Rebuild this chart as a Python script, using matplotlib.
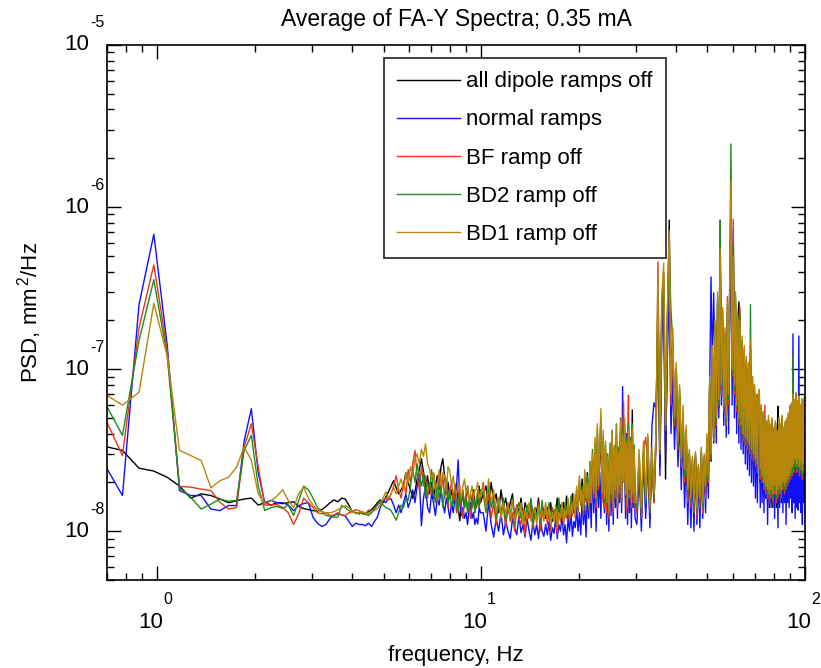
import numpy as np
import matplotlib
matplotlib.use("Agg")
import matplotlib.pyplot as plt

plt.rcParams['font.family'] = ['Liberation Sans', 'DejaVu Sans']
plt.rcParams['mathtext.fontset'] = 'custom'
plt.rcParams['mathtext.rm'] = 'Liberation Sans'
plt.rcParams['mathtext.it'] = 'Liberation Sans'
plt.rcParams['mathtext.default'] = 'regular'

TITLE = "Average of FA-Y Spectra; 0.35 mA"
XLABEL = "frequency, Hz"
YLABEL = r"PSD, mm$^{\,2}$/Hz"
LABELS = ["all dipole ramps off", "normal ramps", "BF ramp off", "BD2 ramp off", "BD1 ramp off"]
COLORS = ["#000000", "#1010FF", "#E8381A", "#1E8C1E", "#B8860B"]
XTICK_EXP = [0, 1, 2]
YTICK_EXP = [-8, -7, -6, -5]

# frequency bins (Hz): bin width 100/1024; segment A every bin from bin 7,
# segment B every 2nd bin from bin 104, segment C every 5th bin from bin 310
DF = 100.0 / 1024.0
K0 = [7, 104, 310]
KSTEP = [1, 2, 5]

# PSD values in units of 1e-8 mm^2/Hz
black_a = [3.35, 3.15, 2.45, 2.35, 2.15, 1.9, 1.6, 1.7, 1.66, 1.58,
           1.5, 1.54, 1.58, 1.6, 1.45, 1.5, 1.45, 1.5, 1.48, 1.5,
           1.52, 1.42, 1.38, 1.36, 1.34, 1.33, 1.36, 1.42, 1.5, 1.56,
           1.52, 1.6, 1.58, 1.45, 1.32, 1.3, 1.28, 1.3, 1.27, 1.32,
           1.36, 1.42, 1.5, 1.56, 1.5, 1.62, 1.75, 1.9, 2.05, 1.85,
           1.7, 1.8, 1.95, 2.3, 2.0, 1.8, 1.6, 1.75, 2.1, 2.4,
           2.8, 2.3, 1.9, 2.2, 1.7, 2.0, 1.6, 1.9, 2.2, 1.8,
           2.5, 2.8, 2.2, 1.7, 2.0, 1.6, 1.8, 1.5, 1.7, 2.0,
           1.4, 1.16, 1.5, 1.7, 1.4, 1.6, 1.9, 1.5, 1.3, 1.6,
           1.8, 1.5, 1.4, 1.6, 1.9, 1.5]
black_b = [1.7, 1.9, 1.4, 2.0, 1.5, 1.7, 1.3, 1.8, 1.4, 1.6,
           1.3, 1.5, 1.7, 1.2, 1.45, 1.3, 1.6, 1.2, 1.5, 1.35,
           1.25, 1.55, 1.2, 1.4, 1.3, 1.6, 1.15, 1.45, 1.3, 1.2,
           1.4, 1.25, 1.5, 1.15, 1.35, 1.3, 1.6, 1.2, 1.45, 1.3,
           1.5, 1.25, 1.65, 1.2, 1.4, 1.35, 1.7, 1.3, 1.5, 1.6,
           1.4, 1.9, 1.5, 2.1, 1.35, 1.8, 1.55, 2.3, 1.4, 2.0,
           1.5, 2.6, 1.7, 3.0, 1.45, 3.6, 1.8, 2.8, 4.0, 1.6,
           3.4, 1.4, 3.0, 1.5, 2.7, 1.3, 3.2, 1.6, 3.5, 1.4,
           2.9, 1.7, 3.8, 1.4, 3.0, 1.8, 4.1, 1.5, 3.6, 2.0,
           4.4, 1.6, 3.3, 1.4, 4.0, 1.7, 3.4, 1.5, 5.6, 1.6,
           3.0, 1.5]
black_c = [1.3, 2.6, 1.2, 3.0, 1.4, 3.3, 1.2, 2.8, 1.5, 3.6,
           24, 2.5, 20, 32, 2.1, 18, 83, 10, 14, 5,
           10, 3.5, 7, 2.6, 5.2, 2.1, 4.0, 1.6, 3.0, 1.5,
           2.6, 1.4, 2.9, 1.3, 2.4, 1.45, 3.1, 1.35, 2.8, 1.7,
           3.5, 1.9, 8, 2.7, 12, 3.5, 18, 4.4, 25, 5.8,
           60, 7, 20, 5.5, 15, 4.5, 22, 6, 32, 110,
           9, 55, 7, 25, 5.5, 19, 26, 18, 4.0, 14,
           3.6, 12, 3.4, 10.5, 3.2, 9.5, 3.0, 13, 2.8, 8,
           2.6, 7.2, 2.4, 6.2, 2.2, 7, 5.5, 2.0, 5.6, 1.9,
           5.0, 1.7, 4.6, 1.6, 4.3, 1.5, 4.8, 1.4, 4.2, 1.5,
           4.6, 1.4, 4.0, 1.6, 4.4, 1.4, 3.8, 5.9, 4.6, 1.6,
           4.2, 1.5, 4.8, 1.7, 4.0, 1.6, 4.4, 1.7, 4.6, 1.8,
           5.0, 1.9, 5.6, 2.0, 5.8, 2.1, 7.5, 2.2, 6.0, 2.4,
           6.8, 2.2, 6.0, 2.4, 6.3, 2.1, 5.6, 2.3, 6.1, 2.0,
           5.8, 2.2, 6.3, 2.5]

blue_a = [2.64, 1.66, 25, 68, 14, 1.78, 1.66, 1.66, 1.37, 1.34,
          1.44, 1.44, 3.6, 5.7, 2.3, 1.5, 1.55, 1.5, 1.5, 1.45,
          1.34, 1.44, 1.48, 1.5, 1.22, 1.12, 1.07, 1.1, 1.2, 1.25,
          1.28, 1.26, 1.24, 1.15, 1.07, 1.12, 1.1, 1.1, 1.08, 1.12,
          1.07, 1.15, 1.22, 1.4, 1.54, 1.5, 1.6, 1.58, 1.45, 1.3,
          1.45, 1.3, 1.5, 1.7, 1.4, 1.55, 1.8, 1.5, 1.9, 2.2,
          1.08, 1.6, 1.9, 1.4, 1.3, 1.7, 1.5, 1.25, 1.6, 1.45,
          1.8, 1.5, 1.3, 1.6, 1.4, 1.2, 1.5, 1.3, 1.6, 1.9,
          2.75, 1.5, 1.25, 1.4, 1.2, 1.3, 1.1, 1.35, 1.5, 1.2,
          1.3, 1.1, 1.2, 1.11, 1.4, 1.3]
blue_b = [1.3, 1.0, 1.5, 1.1, 0.92, 1.2, 1.0, 1.3, 0.95, 1.15,
          1.0, 0.9, 1.2, 1.05, 0.95, 1.25, 0.98, 1.1, 0.92, 1.2,
          1.0, 0.88, 1.15, 0.95, 1.1, 0.9, 1.2, 1.0, 0.93, 1.1,
          0.95, 1.15, 0.88, 1.05, 0.97, 1.2, 0.9, 1.1, 1.0, 1.25,
          0.95, 1.1, 0.85, 1.2, 1.0, 1.3, 0.93, 1.15, 1.05, 1.4,
          1.0, 1.3, 0.95, 1.6, 1.1, 1.45, 0.92, 1.8, 1.2, 2.0,
          1.05, 2.5, 1.3, 2.2, 1.0, 2.8, 1.4, 2.3, 1.2, 3.0,
          3.5, 1.3, 2.6, 1.1, 2.2, 1.0, 2.9, 1.25, 3.2, 1.1,
          2.6, 1.4, 3.4, 1.2, 2.8, 1.5, 3.6, 1.3, 7.8, 2.2,
          3.0, 1.2, 4.0, 1.1, 2.6, 1.3, 3.2, 1.05, 2.8, 1.4,
          2.5, 1.2]
blue_c = [1.1, 2.4, 1.0, 2.8, 1.2, 3.0, 1.05, 4.5, 6.2, 5.7,
          20, 2.2, 16, 25, 3.0, 12, 30, 4.0, 9, 3.2,
          7, 2.5, 5, 1.8, 4.2, 1.4, 3.0, 1.1, 2.6, 1.05,
          2.4, 1.0, 2.8, 1.1, 2.2, 1.05, 2.9, 1.2, 2.5, 1.3,
          3.2, 1.6, 8, 37, 10, 29.5, 12, 3.5, 20, 5,
          83, 6, 18, 4.5, 12, 3.8, 15, 4, 25, 60,
          6, 73, 5, 20, 4, 15, 3.5, 14, 3.2, 12,
          3.0, 10, 2.6, 9, 2.4, 8, 2.2, 10, 2.0, 7,
          1.9, 6, 1.6, 5, 1.5, 4.5, 5.0, 1.4, 4.2, 1.5,
          4.0, 1.3, 3.8, 1.6, 3.5, 1.1, 4.0, 1.5, 3.6, 1.4,
          3.8, 1.6, 3.4, 1.2, 4.0, 1.5, 3.6, 1.05, 3.9, 1.4,
          3.5, 1.6, 4.2, 1.3, 3.6, 1.5, 4.0, 1.1, 3.8, 1.5,
          4.2, 1.4, 5.0, 1.6, 6.0, 1.3, 16.5, 1.5, 5.5, 1.2,
          6.0, 1.4, 5.5, 1.35, 16, 1.5, 5.0, 1.3, 5.8, 1.1,
          5.2, 1.5, 6.0, 1.3]

red_a = [5.2, 2.93, 18, 44, 13, 1.89, 1.87, 1.82, 1.78, 1.51,
         1.37, 1.4, 3.3, 4.6, 2.5, 1.45, 1.45, 1.46, 1.4, 1.3,
         1.1, 1.28, 1.6, 1.5, 1.4, 1.3, 1.28, 1.3, 1.25, 1.26,
         1.3, 1.26, 1.25, 1.3, 1.32, 1.36, 1.34, 1.3, 1.28, 1.35,
         1.3, 1.38, 1.45, 1.5, 1.55, 1.6, 1.55, 1.7, 1.9, 2.2,
         1.8, 1.6, 2.0, 1.7, 2.4, 2.0, 2.6, 3.15, 2.2, 1.8,
         2.5, 1.9, 2.2, 1.6, 2.0, 1.7, 2.3, 1.9, 1.5, 2.1,
         1.7, 2.2, 1.6, 1.9, 1.4, 1.8, 2.0, 1.5, 1.7, 1.3,
         1.6, 1.9, 1.4, 1.2, 1.5, 1.7, 1.35, 1.6, 1.2, 1.45,
         1.7, 1.3, 1.5, 1.8, 1.4, 1.6]
red_b = [2.0, 1.4, 1.7, 1.2, 1.5, 1.1, 1.6, 1.25, 1.4, 1.05,
         1.5, 1.15, 1.3, 1.0, 1.45, 1.2, 1.1, 1.35, 0.95, 1.3,
         1.2, 1.4, 1.05, 1.3, 1.15, 1.5, 1.0, 1.3, 1.2, 1.45,
         1.1, 1.3, 1.0, 1.4, 1.2, 1.25, 0.95, 1.35, 1.15, 1.5,
         1.1, 1.3, 1.2, 1.55, 1.15, 1.4, 1.25, 1.6, 1.2, 1.75,
         1.3, 2.0, 1.45, 1.7, 1.25, 2.2, 1.5, 1.9, 1.35, 2.4,
         1.5, 2.7, 1.6, 3.3, 1.4, 4.0, 1.8, 3.0, 4.6, 1.5,
         3.7, 1.4, 3.2, 1.3, 2.6, 1.2, 3.0, 1.5, 3.6, 1.3,
         3.0, 1.6, 4.0, 1.35, 2.7, 1.7, 4.2, 1.5, 3.5, 6.3,
         2.0, 3.4, 1.3, 3.8, 6.9, 1.6, 3.2, 1.4, 3.8, 1.5,
         2.9, 1.4]
red_c = [1.3, 2.8, 1.2, 3.2, 3.8, 2.6, 1.3, 3.0, 1.5, 3.4,
         46, 3.0, 25, 40, 4.2, 20, 60, 6, 14, 4.5,
         9, 3.2, 6.5, 2.5, 5, 2.0, 3.8, 1.5, 3.0, 1.4,
         2.7, 1.3, 3.0, 1.2, 2.5, 1.4, 3.0, 1.3, 2.8, 1.6,
         3.6, 2.0, 8, 2.8, 12, 3.6, 18, 4.5, 26, 6,
         79, 7, 22, 5.5, 16, 4.5, 28, 6, 35, 120,
         9, 84, 7, 26, 5.5, 20, 4.5, 24, 4.0, 15,
         3.6, 13, 3.4, 11, 3.2, 10, 3.0, 14, 2.8, 8.5,
         2.7, 7.5, 2.5, 6.5, 2.3, 6, 7, 2.1, 6.0, 2.0,
         5.2, 1.8, 6.0, 1.7, 4.5, 1.6, 4.9, 1.5, 4.4, 1.6,
         4.8, 1.5, 4.2, 1.7, 4.6, 1.5, 4.0, 1.6, 4.8, 1.7,
         4.4, 1.6, 5.0, 1.8, 4.2, 1.7, 4.6, 1.8, 4.8, 1.9,
         5.2, 2.0, 5.8, 2.1, 6.0, 2.2, 8.0, 2.3, 6.2, 2.5,
         7.0, 2.3, 6.2, 2.5, 6.5, 2.2, 5.8, 2.4, 6.3, 2.1,
         6.0, 2.3, 6.5, 2.6]

green_a = [6.4, 3.9, 15, 35.6, 12, 1.85, 1.62, 1.37, 1.47, 1.58,
           1.53, 1.55, 3.15, 3.9, 1.9, 1.34, 1.4, 1.42, 1.38, 1.45,
           1.25, 1.54, 1.9, 1.8, 1.6, 1.4, 1.32, 1.25, 1.24, 1.22,
           1.22, 1.44, 1.4, 1.34, 1.32, 1.3, 1.3, 1.28, 1.27, 1.25,
           1.3, 1.38, 1.45, 1.54, 1.45, 1.4, 1.38, 1.34, 1.25, 1.17,
           1.3, 1.45, 1.4, 1.6, 1.55, 1.9, 2.4, 2.0, 2.6, 2.2,
           1.9, 2.3, 1.6, 2.0, 1.8, 2.4, 1.7, 1.5, 2.0, 1.6,
           1.9, 1.4, 1.7, 2.1, 1.5, 1.8, 1.4, 1.6, 1.9, 1.5,
           1.3, 1.7, 1.5, 1.8, 1.4, 1.6, 1.3, 1.5, 1.7, 1.4,
           1.6, 1.3, 1.5, 1.7, 1.4, 1.8]
green_b = [1.7, 1.3, 1.9, 1.4, 1.6, 1.2, 1.45, 1.3, 1.6, 1.15,
           1.4, 1.25, 1.6, 1.1, 1.35, 1.5, 1.2, 1.3, 1.15, 1.45,
           1.3, 1.6, 1.1, 1.35, 1.25, 1.4, 1.15, 1.55, 1.2, 1.3,
           1.25, 1.5, 1.15, 1.35, 1.2, 1.4, 1.1, 1.6, 1.25, 1.45,
           1.2, 1.5, 1.3, 1.4, 1.25, 1.65, 1.3, 1.5, 1.35, 1.8,
           1.35, 2.1, 1.5, 1.9, 1.3, 2.3, 1.6, 2.2, 1.4, 2.7,
           1.6, 3.2, 1.8, 3.5, 1.5, 4.3, 2.0, 3.2, 5.0, 1.8,
           3.9, 1.5, 3.4, 1.6, 3.0, 1.4, 3.5, 1.6, 4.2, 1.5,
           3.3, 1.8, 4.6, 1.5, 3.3, 2.0, 5.0, 1.7, 4.2, 2.2,
           4.8, 1.8, 3.7, 1.5, 4.5, 1.9, 3.8, 1.6, 4.6, 1.8,
           3.4, 1.6]
green_c = [1.4, 3.0, 1.3, 3.4, 1.5, 3.8, 1.35, 3.1, 1.6, 4.0,
           30, 3.1, 26, 38, 4.4, 22, 50, 23, 15, 4.8,
           10, 3.4, 7.5, 2.6, 5.5, 2.2, 4.2, 1.7, 3.1, 1.5,
           2.8, 1.4, 3.0, 1.3, 2.5, 1.5, 3.2, 1.4, 2.9, 1.8,
           3.8, 2.1, 8.5, 2.9, 13, 3.8, 19, 4.8, 28, 6.2,
           83, 7.5, 23, 5.8, 17, 4.8, 25, 6.5, 38, 245,
           9.5, 60, 7.5, 28, 5.8, 21, 4.8, 22, 4.2, 15,
           3.8, 13.5, 3.6, 11.5, 3.4, 10.5, 3.2, 25, 3.0, 9,
           2.9, 8, 2.7, 6.8, 2.5, 6.2, 7.2, 2.3, 5.8, 2.1,
           5.4, 1.9, 4.9, 1.8, 4.6, 1.7, 5.0, 1.6, 4.5, 1.7,
           4.9, 1.6, 4.3, 1.8, 4.7, 1.6, 4.1, 1.7, 4.9, 1.8,
           4.5, 1.7, 5.1, 1.9, 4.3, 1.8, 4.7, 1.9, 4.9, 2.0,
           5.3, 2.1, 5.9, 2.2, 6.1, 2.3, 12, 2.4, 6.3, 2.6,
           7.1, 2.4, 6.3, 2.6, 6.6, 2.3, 5.9, 2.5, 6.4, 2.2,
           6.1, 2.4, 6.6, 2.7]

gold_a = [7.1, 6.0, 7.2, 25.5, 12, 3.15, 2.93, 2.73, 1.85, 2.05,
          2.15, 2.48, 3.3, 2.75, 1.7, 1.47, 1.54, 1.65, 1.8, 1.55,
          1.4, 1.7, 1.87, 1.6, 1.45, 1.35, 1.32, 1.3, 1.3, 1.32,
          1.36, 1.4, 1.44, 1.4, 1.33, 1.28, 1.3, 1.32, 1.3, 1.28,
          1.32, 1.34, 1.38, 1.45, 1.6, 1.75, 1.6, 1.7, 1.85, 1.7,
          1.9, 2.1, 1.8, 2.3, 2.0, 2.5, 2.2, 2.8, 3.0, 2.6,
          3.2, 2.9, 3.46, 2.6, 2.4, 2.1, 2.3, 1.8, 1.9, 2.4,
          2.0, 2.3, 2.2, 1.8, 2.5, 2.35, 1.9, 2.2, 1.8, 1.7,
          2.0, 1.8, 1.6, 1.9, 2.1, 1.7, 1.9, 1.5, 1.7, 1.9,
          1.6, 1.8, 1.82, 2.0, 1.6, 1.7]
gold_b = [1.9, 1.4, 2.1, 1.5, 1.8, 1.3, 1.6, 1.2, 1.5, 1.3,
          1.45, 1.2, 1.55, 1.15, 1.4, 1.25, 1.5, 1.1, 1.35, 1.2,
          1.5, 1.15, 1.3, 1.4, 1.1, 1.45, 1.2, 1.35, 1.15, 1.5,
          1.2, 1.4, 1.1, 1.3, 1.15, 1.45, 1.05, 1.3, 1.2, 1.5,
          1.15, 1.35, 1.25, 1.6, 1.2, 1.45, 1.3, 1.7, 1.25, 1.9,
          1.4, 2.2, 1.5, 1.8, 1.35, 2.4, 1.6, 2.0, 1.45, 2.6,
          1.5, 3.0, 1.7, 3.8, 1.6, 4.6, 1.9, 3.4, 5.7, 1.7,
          4.2, 1.6, 3.6, 1.5, 2.9, 1.3, 3.3, 1.7, 4.0, 1.4,
          3.4, 1.8, 4.5, 1.5, 3.1, 1.9, 4.8, 1.6, 3.9, 2.0,
          5.0, 1.7, 3.5, 1.4, 4.2, 1.8, 3.6, 1.5, 4.3, 1.7,
          3.2, 1.5]
gold_c = [1.5, 3.2, 1.4, 3.6, 1.6, 4.0, 1.45, 3.3, 1.7, 4.2,
          38, 3.2, 28, 45, 4.5, 24, 72, 7, 18, 5,
          11, 3.6, 8, 2.8, 6, 2.4, 4.5, 1.8, 3.2, 1.6,
          2.9, 1.5, 3.1, 1.4, 2.6, 1.6, 3.3, 1.5, 3.0, 1.9,
          4.0, 2.2, 9, 3.0, 14, 4.0, 20, 5.0, 30, 6.5,
          55, 8, 24, 6, 18, 5, 26, 7, 40, 144,
          10, 50, 8, 30, 6, 22, 5, 20, 4.5, 16,
          4.0, 14, 3.8, 12, 3.6, 11, 3.4, 15, 3.2, 9,
          3.0, 8, 2.8, 7, 2.6, 6.5, 7.5, 2.4, 6, 2.2,
          5.5, 2.0, 5, 1.9, 4.8, 1.8, 5.2, 1.7, 4.6, 1.8,
          5.0, 1.7, 4.4, 1.9, 4.8, 1.7, 4.2, 1.8, 5.0, 1.9,
          4.6, 1.8, 5.2, 2.0, 4.4, 1.9, 4.8, 2.0, 5.0, 2.1,
          5.4, 2.2, 6.0, 2.3, 6.2, 2.5, 7.0, 2.6, 6.5, 2.8,
          7.2, 2.6, 6.4, 2.8, 6.8, 2.5, 6.0, 2.7, 6.6, 2.4,
          6.2, 2.6, 6.8, 3.0]

SERIES = [(black_a, black_b, black_c), (blue_a, blue_b, blue_c),
          (red_a, red_b, red_c), (green_a, green_b, green_c),
          (gold_a, gold_b, gold_c)]


def freq_of(segs):
    ks = [k0 + st * np.arange(len(s)) for k0, st, s in zip(K0, KSTEP, segs)]
    return DF * np.concatenate(ks)


fig = plt.figure(figsize=(8.21, 6.68), dpi=100)
ax = fig.add_axes([107 / 821, 1 - 580 / 668, 698 / 821, 535 / 668])

for segs, lab, col in zip(SERIES, LABELS, COLORS):
    f = freq_of(segs)
    v = np.concatenate([np.asarray(s, float) for s in segs]) * 1e-8
    ax.plot(f, v, color=col, lw=1.0, label=lab)

ax.set_xscale('log')
ax.set_yscale('log')
ax.set_xlim(0.7, 100)
ax.set_ylim(5e-9, 1e-5)

for s in ax.spines.values():
    s.set_linewidth(1.2)
ax.tick_params(which='both', direction='in', top=True, right=True,
               labelbottom=False, labelleft=False, width=1.0)
ax.tick_params(which='major', length=10)
ax.tick_params(which='minor', length=5)

FS = 16
EFS = 11.5
for e in XTICK_EXP:
    ax.annotate("10", xy=(10.0 ** e, 0), xycoords=('data', 'axes fraction'),
                xytext=(-6, -42), textcoords='offset pixels',
                ha='center', va='center', fontsize=FS)
    ax.annotate(str(e), xy=(10.0 ** e, 0), xycoords=('data', 'axes fraction'),
                xytext=(6, -20), textcoords='offset pixels',
                ha='left', va='center', fontsize=EFS)
for e in YTICK_EXP:
    ax.annotate("10", xy=(0, 10.0 ** e), xycoords=('axes fraction', 'data'),
                xytext=(-18, 0), textcoords='offset pixels',
                ha='right', va='center', fontsize=FS)
    ax.annotate(str(e), xy=(0, 10.0 ** e), xycoords=('axes fraction', 'data'),
                xytext=(-17, 22), textcoords='offset pixels',
                ha='left', va='center', fontsize=EFS)

ax.set_title(TITLE, fontsize=16.5, pad=14)
ax.set_xlabel(XLABEL, fontsize=FS, va='center')
ax.xaxis.set_label_coords(0.5, -(655 - 580) / 535)
ax.set_ylabel(YLABEL, fontsize=FS, va='center')
ax.yaxis.set_label_coords(-(107 - 30) / 698, 0.5)

leg = ax.legend(loc='upper right', bbox_to_anchor=((666 - 107) / 698, 1 - (58 - 45) / 535),
                fontsize=FS, frameon=True, fancybox=False, framealpha=1.0,
                edgecolor='#333333', handlelength=2.8, handletextpad=0.3,
                labelspacing=0.77, borderpad=0.6, borderaxespad=0)
leg.get_frame().set_linewidth(1.3)

fig.savefig("out.png", dpi=100)
